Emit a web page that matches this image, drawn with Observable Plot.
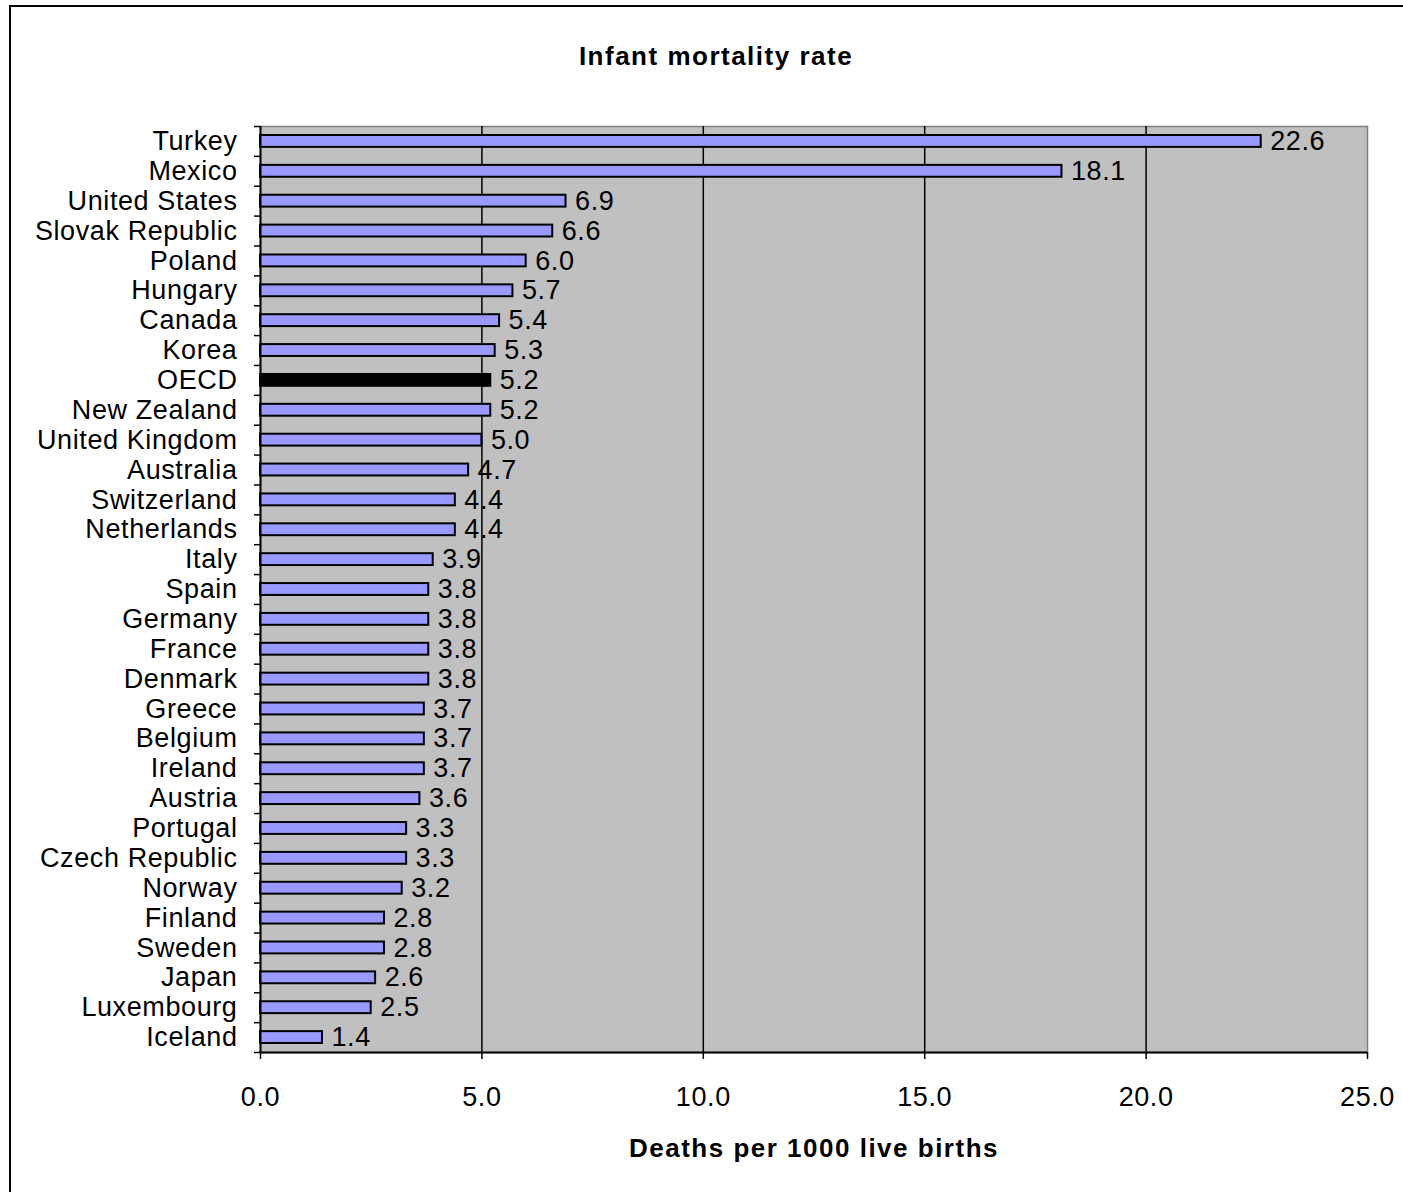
<!DOCTYPE html>
<html>
<head>
<meta charset="utf-8">
<script src="https://cdn.jsdelivr.net/npm/d3@7"></script>
<script src="https://cdn.jsdelivr.net/npm/@observablehq/plot@0.6"></script>
<style>
  html, body { margin: 0; padding: 0; background: #fff; overflow: hidden; }
  #wrap { position: relative; width: 1403px; height: 1192px; overflow: hidden; font-family: "Liberation Sans", Arial, sans-serif; }
  #border { position: absolute; left: 9px; top: 5px; width: 1500px; height: 1300px; border-left: 2px solid #000; border-top: 2px solid #000; }
  #title { position: absolute; left: 416px; width: 600px; top: 43px; text-align: center; font-weight: bold; font-size: 26px; line-height: 26px; letter-spacing: 1.5px; color: #000; }
  #xtitle { position: absolute; left: 514px; width: 600px; top: 1135px; text-align: center; font-weight: bold; font-size: 26px; line-height: 26px; letter-spacing: 1.5px; color: #000; }
  #chart { position: absolute; left: 0; top: 0; }
  #chart svg text { letter-spacing: 0.6px; }
</style>
</head>
<body>
<div id="wrap">
  <div id="border"></div>
  <div id="chart"></div>
  <div id="title">Infant mortality rate</div>
  <div id="xtitle">Deaths per 1000 live births</div>
</div>
<script>
const countries = ["Turkey","Mexico","United States","Slovak Republic","Poland","Hungary","Canada","Korea","OECD","New Zealand","United Kingdom","Australia","Switzerland","Netherlands","Italy","Spain","Germany","France","Denmark","Greece","Belgium","Ireland","Austria","Portugal","Czech Republic","Norway","Finland","Sweden","Japan","Luxembourg","Iceland"];
const values = [22.6,18.1,6.9,6.6,6.0,5.7,5.4,5.3,5.2,5.2,5.0,4.7,4.4,4.4,3.9,3.8,3.8,3.8,3.8,3.7,3.7,3.7,3.6,3.3,3.3,3.2,2.8,2.8,2.6,2.5,1.4];
const xTicks = [0, 5, 10, 15, 20, 25];
const gridValues = [5, 10, 15, 20];
const highlight = "OECD";

const data = countries.map((c, i) => ({country: c, value: values[i]}));

const W = 1403, H = 1192;
const mL = 260, mR = 36, mT = 126, mB = 140;
const halfBand = (H - mT - mB) / countries.length / 2;
const tickLenUnits = 6 / ((W - mL - mR) / 25);

const chart = Plot.plot({
  width: W,
  height: H,
  marginLeft: mL,
  marginRight: mR,
  marginTop: mT,
  marginBottom: mB,
  style: {fontFamily: "'Liberation Sans', Arial, sans-serif", fontSize: "27px", background: "transparent", color: "#000"},
  x: {domain: [0, 25]},
  y: {domain: countries, padding: 0, round: false},
  color: {type: "identity"},
  marks: [
    Plot.frame({fill: "#C0C0C0", stroke: "#808080", strokeWidth: 1.5}),
    Plot.ruleX(gridValues, {stroke: "#000", strokeWidth: 1.5}),
    Plot.barX(data, {
      x: "value", y: "country",
      fill: d => d.country === highlight ? "#000" : "#9999FF",
      stroke: "#000", strokeWidth: 2,
      insetTop: 9, insetBottom: 9
    }),
    Plot.ruleX([0], {stroke: "#000", strokeWidth: 2}),
    Plot.ruleY([countries[countries.length - 1]], {x1: 0, x2: 25, dy: halfBand, stroke: "#000", strokeWidth: 2}),
    Plot.ruleY(countries, {x1: -tickLenUnits, x2: 0, dy: -halfBand, stroke: "#000", strokeWidth: 1.5}),
    Plot.ruleY([countries[countries.length - 1]], {x1: -tickLenUnits, x2: 0, dy: halfBand, stroke: "#000", strokeWidth: 1.5}),
    Plot.text(data, {
      x: "value", y: "country",
      text: d => d.value.toFixed(1),
      textAnchor: "start", dx: 9, fill: "#000", fontSize: 27
    }),
    Plot.axisX({ticks: xTicks, tickFormat: d => d.toFixed(1), tickSize: 7, tickPadding: 27, label: null, fontSize: 27, strokeWidth: 1.5}),
    Plot.axisY({tickSize: 0, tickPadding: 23, label: null, fontSize: 27})
  ]
});
document.getElementById("chart").appendChild(chart);
</script>
</body>
</html>
